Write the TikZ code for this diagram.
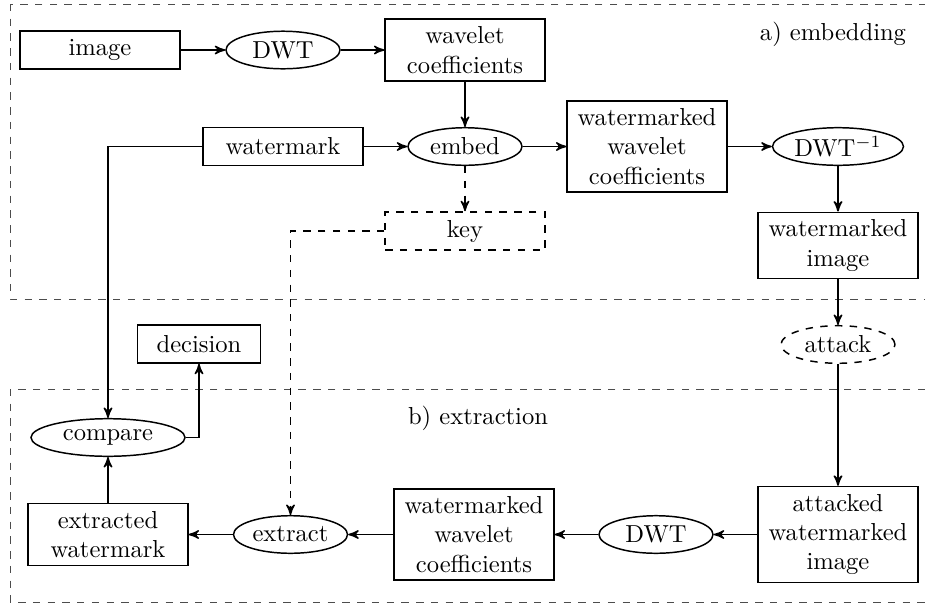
\documentclass[tikz,border=0pt]{standalone}
\usetikzlibrary{arrows,shapes,positioning,calc}

\begin{document}
\begin{tikzpicture}[
    x=0.407pt, y=-0.407pt,
    block/.style={rectangle, draw, semithick, align=center, minimum width=65pt, minimum height=15.5pt, inner sep=3pt},
    oper/.style={ellipse, draw, semithick, inner sep=0pt, minimum width=46.4pt, minimum height=15.3pt},
    area/.style={draw=black!70, dashed},
    arrow/.style={->, >=stealth', semithick}
]

\clip (0,0) rectangle (925,604);

% Draw frames
\draw[area] (10,4) rectangle (940,299);
\draw[area] (10,389) rectangle (940,602);
\node (embedlabel) at (833,34) {a) embedding};
\node (extractlabel) at (478,418) {b) extraction};

% Draw embedding
\node[block] (image) at (100,50) {image};
\node[oper] (dwt) at (283,50) {DWT};
\node[block] (wavcoef) at (465,50) {wavelet\\coefficients};
\node[block] (watermark) at (283,146.5) {watermark};
\node[oper] (embed) at (465,146.5) {embed};
\node[block] (wmcoef) at (647,146.5) {watermarked\\wavelet\\coefficients};
\node[oper, minimum width=53.3pt] (dwtinv) at (838,146.5) {DWT$^{-1}$};
\node[block, dashed] (key) at (465,231) {key};
\node[block] (wmimage) at (838,245.5) {watermarked\\image};

% Draw attack and extraction
\node[oper, dashed] (attack) at (838,344.5) {attack};
\node[block, minimum width=50pt] (decision) at (199,344) {decision};
\node[oper, minimum width=62.7pt] (compare) at (108,437.5) {compare};
\node[block] (extracted) at (108,534.5) {extracted\\watermark};
\node[oper] (extract) at (290.5,534.5) {extract};
\node[block] (wmcoefb) at (474,534.5) {watermarked\\wavelet\\coefficients};
\node[oper] (dwtb) at (656,534.5) {DWT};
\node[block] (attacked) at (838,534.5) {attacked\\watermarked\\image};

% Draw arrows
\draw[arrow] (image) -- (dwt);
\draw[arrow] (dwt) -- (wavcoef);
\draw[arrow] (wavcoef) -- (embed);
\draw[arrow] (watermark) -- (embed);
\draw[arrow] (embed) -- (wmcoef);
\draw[arrow] (wmcoef) -- (dwtinv);
\draw[arrow] (dwtinv) -- (wmimage);
\draw[arrow] (wmimage) -- (attack);
\draw[arrow] (attack) -- (attacked);
\draw[arrow] (attacked) -- (dwtb);
\draw[arrow] (dwtb) -- (wmcoefb);
\draw[arrow] (wmcoefb) -- (extract);
\draw[arrow] (extract) -- (extracted);
\draw[arrow] (extracted) -- (compare);
\draw[arrow] (compare.east) -| (decision.south);
\draw[arrow] (watermark.west) -| (compare.north);
\draw[arrow, dashed] (embed) -- (key);
\draw[arrow, dashed] (key.west) -| (extract.north);

\end{tikzpicture}
\end{document}
